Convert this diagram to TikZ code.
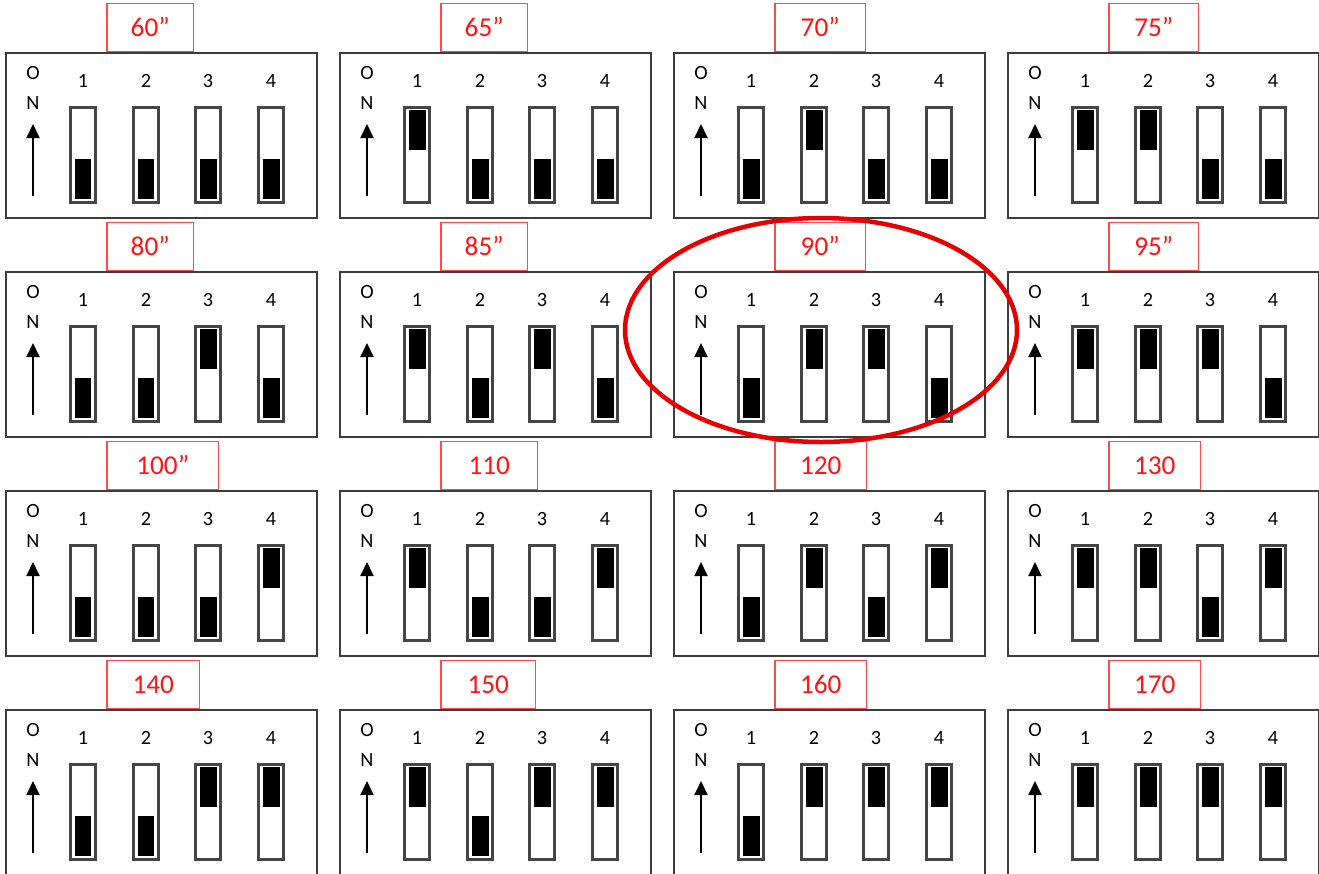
\documentclass[tikz,border=0pt]{standalone}
\usepackage{fontspec}
\setmainfont{Carlito}
\usetikzlibrary{arrows.meta}
\definecolor{panelgray}{HTML}{3C3C3C}
\definecolor{slotgray}{HTML}{454545}
\definecolor{labelred}{HTML}{FF1414}
\definecolor{boxred}{HTML}{FF4A4A}
\definecolor{ringred}{HTML}{E60000}

\tikzset{
  panel/.style={draw=panelgray, line width=0.04cm, fill=white, inner sep=0pt,
                minimum width=6.22cm, minimum height=3.3cm, anchor=north west},
  tag/.style={draw=boxred, line width=0.03cm, fill=white, inner sep=0pt,
              minimum height=0.96cm, anchor=south west, text=labelred,
              font=\fontsize{15.5}{18}\selectfont},
  slot/.style={draw=slotgray, line width=0.055cm, inner sep=0pt,
               minimum width=0.5cm, minimum height=1.9cm, anchor=north},
  knob/.style={fill=black, inner sep=0pt, minimum width=0.34cm, minimum height=0.8cm},
  digit/.style={font=\fontsize{11.5}{13}\selectfont, inner sep=0pt},
  onarrow/.style={line width=0.04cm, -{Triangle[width=0.26cm, length=0.28cm]}},
}

\begin{document}
\begin{tikzpicture}[x=0.02cm, y=-0.02cm]
  \useasboundingbox (0,0) rectangle (1319,873);

  % One DIP switch panel per setting, counted in binary (switch 1 = lowest bit)
  \foreach \t/\w [count=\k from 0] in {60”/1.74, 65”/1.74, 70”/1.82, 75”/1.8,
      80”/1.74, 85”/1.74, 90”/1.82, 95”/1.8,
      100”/2.24, 110/1.94, 120/1.84, 130/1.84,
      140/1.86, 150/1.9, 160/1.84, 170/1.84} {
    \pgfmathtruncatemacro\pl{5+334*mod(\k,4)}
    \pgfmathtruncatemacro\pt{52+219*int(\k/4)}

    % Red tag on top of the panel
    \node[tag, minimum width=\w cm] (t\k) at ({\pl+101},\pt) {\t};
    \node[panel] (p\k) at (\pl,\pt) {};

    % ON arrow
    \node[digit] (o\k) at ({\pl+28},{\pt+21}) {O};
    \node[digit] (n\k) at ({\pl+28},{\pt+51}) {N};
    \coordinate (a\k) at ({\pl+28},{\pt+144});
    \coordinate (b\k) at ({\pl+28},{\pt+72});
    \draw[onarrow] (a\k) -- (b\k);

    % Four switches
    \foreach \i/\dx in {1/78, 2/141, 3/203, 4/266} {
      \node[slot] (s\k-\i) at ({\pl+\dx},{\pt+54}) {};
      \node[digit] (d\k-\i) at ([yshift=0.5cm]s\k-\i.north) {\i};
      \pgfmathtruncatemacro\on{mod(int(\k/2^(\i-1)),2)}
      \ifnum\on=1
        \node[knob, anchor=north] (k\k-\i) at ([yshift=-0.08cm]s\k-\i.north) {};
      \else
        \node[knob, anchor=south] (k\k-\i) at ([yshift=0.08cm]s\k-\i.south) {};
      \fi
    }
  }

  % Highlight ring around 90"
  \draw[ringred, line width=0.09cm] (821,330) ellipse [x radius=196, y radius=112];
\end{tikzpicture}
\end{document}
